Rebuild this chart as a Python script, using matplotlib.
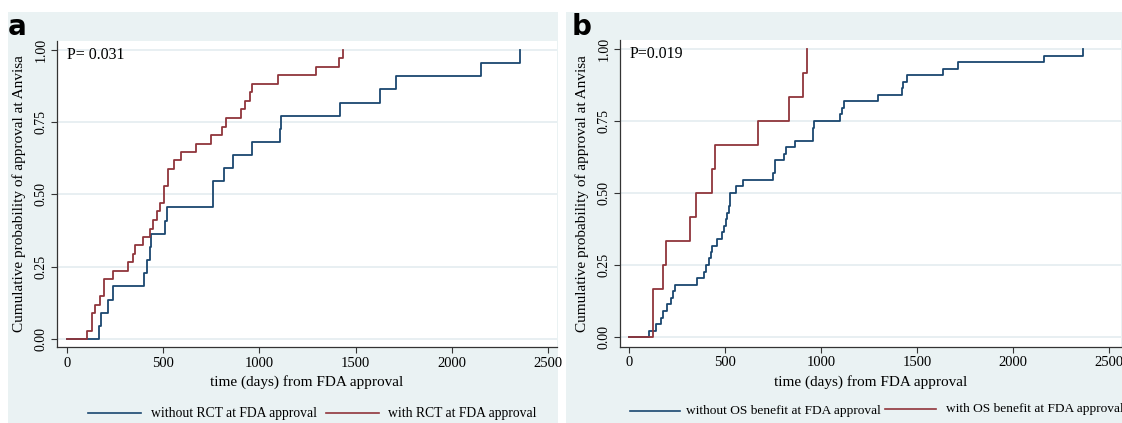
import matplotlib
matplotlib.use("Agg")
import matplotlib.pyplot as plt
from matplotlib.lines import Line2D
from matplotlib.patches import Rectangle

# panel a: RCT at FDA approval
days_a_without = [170, 177, 216, 239, 402, 419, 430, 438, 511, 523, 758, 817, 865,
                  961, 1108, 1111, 1419, 1627, 1708, 2151, 2354]
prob_a_without = [0.045, 0.091, 0.136, 0.182, 0.227, 0.273, 0.318, 0.364, 0.409, 0.455,
                  0.545, 0.591, 0.636, 0.682, 0.727, 0.773, 0.818, 0.864, 0.909, 0.955, 1.0]
days_a_with = [107, 130, 147, 173, 194, 242, 318, 343, 355, 398, 433, 447, 467, 485, 507,
               528, 557, 594, 672, 749, 805, 827, 903, 926, 952, 961, 1099, 1293, 1412, 1437]
prob_a_with = [0.029, 0.088, 0.118, 0.147, 0.206, 0.235, 0.265, 0.294, 0.324, 0.353, 0.382,
               0.412, 0.441, 0.471, 0.529, 0.588, 0.618, 0.647, 0.676, 0.706, 0.735, 0.765,
               0.794, 0.824, 0.853, 0.882, 0.912, 0.941, 0.971, 1.0]

# panel b: OS benefit at FDA approval
days_b_without = [104, 139, 165, 174, 195, 216, 228, 238, 351, 390, 398, 416, 425, 433, 456,
                  482, 496, 502, 508, 518, 525, 557, 595, 748, 760, 809, 817, 864, 957, 962,
                  1099, 1108, 1122, 1299, 1423, 1430, 1447, 1638, 1716, 2163, 2368]
prob_b_without = [0.023, 0.045, 0.068, 0.091, 0.114, 0.136, 0.159, 0.182, 0.205, 0.227, 0.25,
                  0.273, 0.295, 0.318, 0.341, 0.364, 0.386, 0.409, 0.432, 0.455, 0.5, 0.523,
                  0.545, 0.568, 0.614, 0.636, 0.659, 0.682, 0.727, 0.75, 0.773, 0.795, 0.818,
                  0.841, 0.864, 0.886, 0.909, 0.932, 0.955, 0.977, 1.0]
days_b_with = [125, 174, 190, 317, 348, 430, 447, 673, 833, 904, 929]
prob_b_with = [0.167, 0.25, 0.333, 0.417, 0.5, 0.583, 0.667, 0.75, 0.833, 0.917, 1.0]

x_ticks = [0, 500, 1000, 1500, 2000, 2500]
y_ticks = [0.0, 0.25, 0.5, 0.75, 1.0]

NAVY = "#1a476f"
MAROON = "#90353b"
BG = "#eaf2f3"
SERIF = "Liberation Serif"

W, H = 1122, 423
fig = plt.figure(figsize=(W / 100, H / 100), dpi=100)
fig.patch.set_facecolor("white")

# light panel backgrounds, kept behind the axes
fig.patches.append(Rectangle((8 / W, 0), 550 / W, 411 / H, transform=fig.transFigure,
                             facecolor=BG, edgecolor="none", zorder=-5))
fig.patches.append(Rectangle((566 / W, 0), 556 / W, 411 / H, transform=fig.transFigure,
                             facecolor=BG, edgecolor="none", zorder=-5))


def km_panel(rect, d_without, p_without, d_with, p_with, ptext, xlim, ylim):
    ax = fig.add_axes(rect)
    ax.set_zorder(2)
    ax.set_facecolor("white")
    for y in y_ticks:
        ax.axhline(y, color="#e6eef1", lw=1.3, zorder=1)
    ax.step([0] + d_without, [0] + p_without, where="post", color=NAVY, lw=1.3, zorder=3)
    ax.step([0] + d_with, [0] + p_with, where="post", color=MAROON, lw=1.3, zorder=3)
    ax.set_xlim(*xlim)
    ax.set_ylim(*ylim)
    ax.set_xticks(x_ticks)
    ax.set_yticks(y_ticks)
    ax.set_yticklabels([f"{v:.2f}" for v in y_ticks], rotation=90, va="center",
                       family=SERIF, fontsize=10)
    ax.set_xticklabels([str(v) for v in x_ticks], family=SERIF, fontsize=10.5)
    for s in ["top", "right"]:
        ax.spines[s].set_visible(False)
    for s in ["left", "bottom"]:
        ax.spines[s].set_color("#333333")
        ax.spines[s].set_linewidth(0.9)
    ax.tick_params(direction="out", length=4, width=0.8, color="#333333", pad=3)
    ax.set_xlabel("time (days) from FDA approval", family=SERIF, fontsize=11, labelpad=4)
    ax.set_ylabel("Cumulative probability of approval at Anvisa", family=SERIF,
                  fontsize=11, labelpad=6)
    ax.text(0.02, 0.955, ptext, transform=ax.transAxes, family=SERIF, fontsize=11.5,
            ha="left", va="center")
    return ax


km_panel([57.3 / W, 1 - 347 / H, 499.4 / W, 306 / H],
         days_a_without, prob_a_without, days_a_with, prob_a_with,
         "P= 0.031", (-49, 2544), (-0.028, 1.031))
km_panel([620 / W, 1 - 346.7 / H, 500.7 / W, 306.7 / H],
         days_b_without, prob_b_without, days_b_with, prob_b_with,
         "P=0.019", (-48.5, 2563), (-0.033, 1.031))

fig.text(8 / W, 1 - 27 / H, "a", fontsize=20, fontweight="bold", family="DejaVu Sans",
         va="center", ha="left")
fig.text(572 / W, 1 - 27 / H, "b", fontsize=20, fontweight="bold", family="DejaVu Sans",
         va="center", ha="left")


def legend_item(x0, x1, xt, y, color, label, size):
    fig.add_artist(Line2D([x0 / W, x1 / W], [1 - y / H, 1 - y / H], color=color, lw=1.2,
                          transform=fig.transFigure))
    fig.text(xt / W, 1 - y / H, label, family=SERIF, fontsize=size, va="center", ha="left")


legend_item(88, 141, 151, 413, NAVY, "without RCT at FDA approval", 9.8)
legend_item(326, 379, 388, 413, MAROON, "with RCT at FDA approval", 9.8)
legend_item(630, 680, 686, 411, NAVY, "without OS benefit at FDA approval", 9.6)
legend_item(885, 936, 946, 409, MAROON, "with OS benefit at FDA approval", 9.6)

fig.savefig("out.png", dpi=100, facecolor=fig.get_facecolor())
